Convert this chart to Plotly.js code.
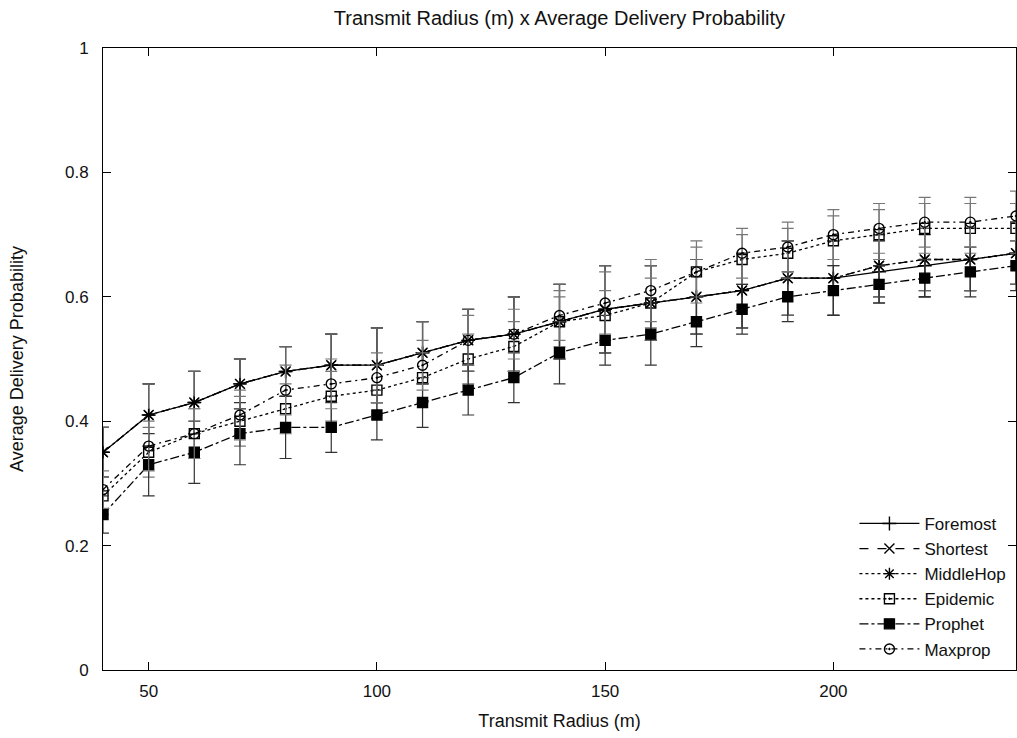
<!DOCTYPE html>
<html>
<head>
<meta charset="utf-8">
<script src="https://cdn.plot.ly/plotly-3.0.1.min.js"></script>
<style>html,body{margin:0;padding:0;background:#fff;}#chart{width:1017px;height:738px;}</style>
</head>
<body>
<div id="chart"></div>
<script>
const radius = [40,50,60,70,80,90,100,110,120,130,140,150,160,170,180,190,200,210,220,230,240];

const foremost  = [0.35,0.41,0.43,0.46,0.48,0.49,0.49,0.51,0.53,0.54,0.56,0.58,0.59,0.60,0.61,0.63,0.63,0.64,0.65,0.66,0.67];
const shortest  = [0.35,0.41,0.43,0.46,0.48,0.49,0.49,0.51,0.53,0.54,0.56,0.58,0.59,0.60,0.61,0.63,0.63,0.65,0.66,0.66,0.67];
const middlehop = [0.35,0.41,0.43,0.46,0.48,0.49,0.49,0.51,0.53,0.54,0.56,0.58,0.59,0.60,0.61,0.63,0.63,0.65,0.66,0.66,0.67];
const epidemic  = [0.28,0.35,0.38,0.40,0.42,0.44,0.45,0.47,0.50,0.52,0.56,0.57,0.59,0.64,0.66,0.67,0.69,0.70,0.71,0.71,0.71];
const prophet   = [0.25,0.33,0.35,0.38,0.39,0.39,0.41,0.43,0.45,0.47,0.51,0.53,0.54,0.56,0.58,0.60,0.61,0.62,0.63,0.64,0.65];
const maxprop   = [0.29,0.36,0.38,0.41,0.45,0.46,0.47,0.49,0.53,0.54,0.57,0.59,0.61,0.64,0.67,0.68,0.70,0.71,0.72,0.72,0.73];

const foremostErr  = [0.04,0.05,0.05,0.04,0.04,0.05,0.06,0.05,0.05,0.06,0.06,0.07,0.06,0.06,0.06,0.06,0.06,0.05,0.05,0.05,0.05];
const shortestErr  = [0.04,0.05,0.05,0.04,0.04,0.05,0.06,0.05,0.05,0.06,0.06,0.07,0.06,0.06,0.06,0.06,0.06,0.05,0.05,0.05,0.05];
const middlehopErr = [0.04,0.05,0.05,0.04,0.04,0.05,0.06,0.05,0.05,0.06,0.06,0.07,0.06,0.06,0.06,0.06,0.06,0.05,0.05,0.05,0.05];
const epidemicErr  = [0.03,0.04,0.04,0.04,0.04,0.04,0.04,0.04,0.04,0.04,0.04,0.04,0.04,0.04,0.04,0.04,0.04,0.04,0.04,0.04,0.04];
const prophetErr   = [0.03,0.05,0.05,0.05,0.05,0.04,0.04,0.04,0.04,0.04,0.05,0.04,0.05,0.04,0.04,0.04,0.04,0.03,0.03,0.04,0.04];
const maxpropErr   = [0.03,0.04,0.04,0.04,0.04,0.04,0.04,0.04,0.04,0.04,0.04,0.05,0.05,0.05,0.04,0.04,0.04,0.04,0.04,0.04,0.04];

const seriesNames = ['Foremost','Shortest','MiddleHop','Epidemic','Prophet','Maxprop'];

function mk(name, y, err, dash, symbol, errColor) {
  return {
    x: radius, y: y, name: name, type: 'scatter', mode: 'lines+markers',
    line: {color: '#000', width: 1.3, dash: dash},
    marker: {symbol: symbol, size: 10, color: '#000', line: {color: '#000', width: 1.4}},
    error_y: {type: 'data', array: err, visible: true, color: errColor, thickness: 1.2, width: 6}
  };
}

const traces = [
  mk(seriesNames[0], foremost, foremostErr, 'solid', 'cross-thin-open', '#000'),
  mk(seriesNames[1], shortest, shortestErr, 'dash', 'x-thin-open', '#444'),
  mk(seriesNames[2], middlehop, middlehopErr, '3px,3px', 'asterisk-open', '#666'),
  mk(seriesNames[3], epidemic, epidemicErr, 'dot', 'square-open-dot', '#777'),
  mk(seriesNames[4], prophet, prophetErr, 'dashdot', 'square', '#333'),
  mk(seriesNames[5], maxprop, maxpropErr, '6px,4px,2px,4px', 'circle-open-dot', '#777')
];

const font = {family: 'Liberation Sans, Arial, sans-serif', color: '#111'};

const layout = {
  width: 1017, height: 738,
  margin: {l: 103, r: 1, t: 48, b: 68},
  paper_bgcolor: '#fff', plot_bgcolor: '#fff',
  font: Object.assign({size: 16}, font),
  title: {text: 'Transmit Radius (m) x Average Delivery Probability', x: 0.5, xref: 'paper', y: 0.975, yanchor: 'middle', font: Object.assign({size: 20}, font)},
  xaxis: {
    range: [40, 240], tickvals: [50,100,150,200], ticktext: ['50','100','150','200'],
    showgrid: false, zeroline: false, showline: true, linecolor: '#000', linewidth: 1, mirror: 'ticks',
    ticks: 'inside', ticklen: 8, tickcolor: '#000', ticklabelstandoff: 6,
    title: {text: 'Transmit Radius (m)', font: Object.assign({size: 18}, font), standoff: 13},
    tickfont: Object.assign({size: 17}, font)
  },
  yaxis: {
    range: [0, 1], tickvals: [0,0.2,0.4,0.6,0.8,1], ticktext: ['0','0.2','0.4','0.6','0.8','1'],
    showgrid: false, zeroline: false, showline: true, linecolor: '#000', linewidth: 1, mirror: 'ticks',
    ticks: 'inside', ticklen: 8, tickcolor: '#000', ticklabelstandoff: 10,
    title: {text: 'Average Delivery Probability', font: Object.assign({size: 18}, font), standoff: 36},
    tickfont: Object.assign({size: 17}, font)
  },
  showlegend: true,
  legend: {x: 0.995, y: 0.005, xanchor: 'right', yanchor: 'bottom', bgcolor: 'rgba(255,255,255,0)', borderwidth: 0,
           font: Object.assign({size: 17}, font), tracegroupgap: 0, itemwidth: 60}
};

Plotly.newPlot('chart', traces, layout, {displayModeBar: false, staticPlot: true});
</script>
</body>
</html>
